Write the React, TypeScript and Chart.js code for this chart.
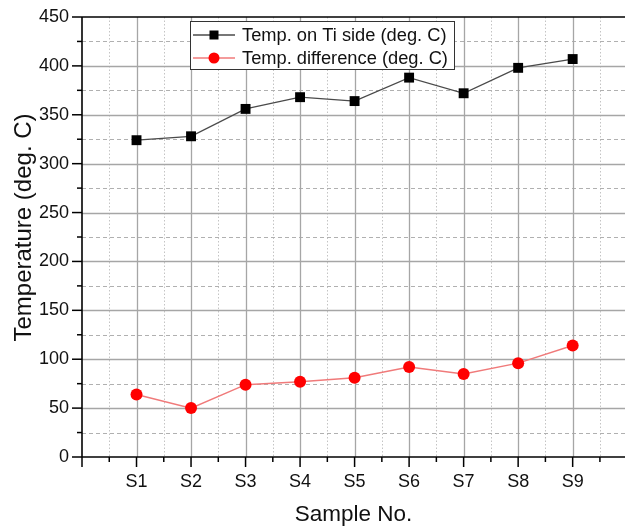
import React, { useEffect, useRef } from 'react';
import { Chart, registerables } from 'chart.js';

Chart.register(...registerables);

const categories = ['S1', 'S2', 'S3', 'S4', 'S5', 'S6', 'S7', 'S8', 'S9'];
const tempTiSide = [324, 328, 356, 368, 364, 388, 372, 398, 407];
const tempDifference = [64, 50, 74, 77, 81, 92, 85, 96, 114];
const seriesLabels = ['Temp. on Ti side (deg. C)', 'Temp. difference (deg. C)'];
const xTitle = 'Sample No.';
const yTitle = 'Temperature (deg. C)';
const yMin = 0;
const yMax = 450;
const yStep = 50;
const xMin = 0;
const xMax = 9.96; // the original frame is cropped just before x = 10

const FONT = '"Liberation Sans", Arial, Helvetica, sans-serif';

const line = (ctx: CanvasRenderingContext2D, x1: number, y1: number, x2: number, y2: number) => {
  ctx.beginPath();
  ctx.moveTo(x1, y1);
  ctx.lineTo(x2, y2);
  ctx.stroke();
};

const gridPlugin = {
  id: 'originGrid',
  beforeDatasetsDraw(chart: any) {
    const { ctx, chartArea: a, scales } = chart;
    const x = scales.x;
    const y = scales.y;
    ctx.save();
    ctx.lineWidth = 1;
    ctx.strokeStyle = '#c4c4c4';
    ctx.setLineDash([1.5, 2]);
    for (let v = xMin + 0.5; v < xMax; v += 1) {
      const px = Math.round(x.getPixelForValue(v)) + 0.5;
      line(ctx, px, a.top, px, a.bottom);
    }
    ctx.strokeStyle = '#b0b0b0';
    ctx.setLineDash([4, 3]);
    for (let v = yMin + yStep / 2; v < yMax; v += yStep) {
      const py = Math.round(y.getPixelForValue(v)) + 0.5;
      line(ctx, a.left, py, a.right, py);
    }
    ctx.setLineDash([]);
    ctx.strokeStyle = '#a6a6a6';
    ctx.lineWidth = 1.3;
    for (let v = xMin + 1; v < xMax; v += 1) {
      const px = Math.round(x.getPixelForValue(v)) + 0.5;
      line(ctx, px, a.top, px, a.bottom);
    }
    for (let v = yMin + yStep; v < yMax; v += yStep) {
      const py = Math.round(y.getPixelForValue(v)) + 0.5;
      line(ctx, a.left, py, a.right, py);
    }
    ctx.restore();
  },
  afterDatasetsDraw(chart: any) {
    const { ctx, chartArea: a, scales } = chart;
    const x = scales.x;
    const y = scales.y;
    ctx.save();
    ctx.strokeStyle = '#000';
    ctx.lineWidth = 1.6;
    line(ctx, a.left, a.top, a.left, a.bottom);
    line(ctx, a.left, a.bottom, a.right, a.bottom);
    line(ctx, a.left, a.top, a.right, a.top);
    ctx.lineWidth = 1.5;
    for (let v = yMin; v <= yMax; v += yStep / 2) {
      const py = y.getPixelForValue(v);
      const major = v % yStep === 0;
      line(ctx, a.left - (major ? 10 : 5), py, a.left, py);
    }
    for (let v = xMin; v <= xMax; v += 0.5) {
      const px = x.getPixelForValue(v);
      const major = Number.isInteger(v);
      line(ctx, px, a.bottom, px, a.bottom + (major ? 10 : 5));
    }
    // y-axis title
    ctx.save();
    ctx.translate(30.5, (a.top + a.bottom) / 2 - 9.5);
    ctx.rotate(-Math.PI / 2);
    ctx.fillStyle = '#111';
    ctx.font = `24px ${FONT}`;
    ctx.textAlign = 'center';
    ctx.textBaseline = 'alphabetic';
    ctx.fillText(yTitle, 0, 0);
    ctx.restore();
    // legend
    const bx = 190.5, by = 21.5, bw = 264, bh = 48;
    ctx.fillStyle = '#fff';
    ctx.fillRect(bx, by, bw, bh);
    ctx.lineWidth = 1;
    ctx.strokeStyle = '#333';
    ctx.strokeRect(bx, by, bw, bh);
    const rows = [35, 58];
    chart.data.datasets.forEach((ds: any, i: number) => {
      const ry = rows[i];
      ctx.strokeStyle = ds.borderColor;
      ctx.lineWidth = ds.borderWidth;
      line(ctx, 193, ry, 235, ry);
      ctx.fillStyle = ds.pointBackgroundColor;
      if (ds.pointStyle === 'rect') {
        ctx.fillRect(214 - 4.5, ry - 4.5, 9, 9);
      } else {
        ctx.beginPath();
        ctx.arc(214, ry, 5.5, 0, Math.PI * 2);
        ctx.fill();
      }
      ctx.fillStyle = '#111';
      ctx.font = `18.3px ${FONT}`;
      ctx.textAlign = 'left';
      ctx.textBaseline = 'middle';
      ctx.fillText(ds.label, 242, ry + 1);
    });
    ctx.restore();
  },
};

export default function App() {
  const ref = useRef<HTMLCanvasElement | null>(null);
  useEffect(() => {
    if (!ref.current) return;
    const chart = new Chart(ref.current, {
      type: 'line',
      data: {
        datasets: [
          {
            label: seriesLabels[0],
            data: tempTiSide.map((v, i) => ({ x: i + 1, y: v })),
            borderColor: '#4a4a4a',
            borderWidth: 1.3,
            pointStyle: 'rect',
            pointRadius: 7,
            pointBackgroundColor: '#000',
            pointBorderColor: '#000',
            pointBorderWidth: 0,
            backgroundColor: '#000',
          },
          {
            label: seriesLabels[1],
            data: tempDifference.map((v, i) => ({ x: i + 1, y: v })),
            borderColor: '#f07a7a',
            borderWidth: 1.5,
            pointStyle: 'circle',
            pointRadius: 6,
            pointBackgroundColor: '#ff0000',
            pointBorderColor: '#ff0000',
            pointBorderWidth: 0,
            backgroundColor: '#ff0000',
          },
        ] as any,
      },
      options: {
        responsive: false,
        animation: false,
        layout: { autoPadding: false, padding: { left: 0, top: 17, right: 0, bottom: 0 } },
        plugins: { legend: { display: false }, tooltip: { enabled: false } },
        scales: {
          x: {
            type: 'linear',
            min: xMin,
            max: xMax,
            grid: { display: false, drawTicks: false, tickLength: 0 },
            border: { display: false },
            afterBuildTicks: (s: any) => {
              s.ticks = categories.map((_, i) => ({ value: i + 1 }));
            },
            ticks: {
              autoSkip: false,
              maxRotation: 0,
              padding: 14,
              color: '#111',
              font: { family: FONT, size: 18 },
              callback: (v: any) => {
                const n = Math.round(Number(v));
                return n >= 1 && n <= categories.length ? categories[n - 1] : '';
              },
            },
            title: {
              display: true,
              text: xTitle,
              color: '#111',
              font: { family: FONT, size: 22.5 },
              padding: { top: 0, bottom: 0 },
            },
            afterFit: (s: any) => {
              s.height = 71;
              s.paddingRight = 0;
              s.paddingLeft = 0;
            },
          },
          y: {
            type: 'linear',
            min: yMin,
            max: yMax,
            grid: { display: false, drawTicks: false, tickLength: 0 },
            border: { display: false },
            ticks: {
              stepSize: yStep,
              padding: 13,
              color: '#111',
              font: { family: FONT, size: 18 },
            },
            title: { display: false },
            afterFit: (s: any) => {
              s.width = 82;
              s.paddingTop = 0;
              s.paddingBottom = 0;
            },
          },
        },
      } as any,
      plugins: [gridPlugin],
    });
    return () => chart.destroy();
  }, []);
  return (
    <div
      style={{
        position: 'fixed',
        left: 0,
        top: 0,
        width: 625,
        height: 528,
        overflow: 'hidden',
        background: '#fff',
      }}
    >
      <canvas ref={ref} width={625} height={528} style={{ display: 'block' }} />
    </div>
  );
}
